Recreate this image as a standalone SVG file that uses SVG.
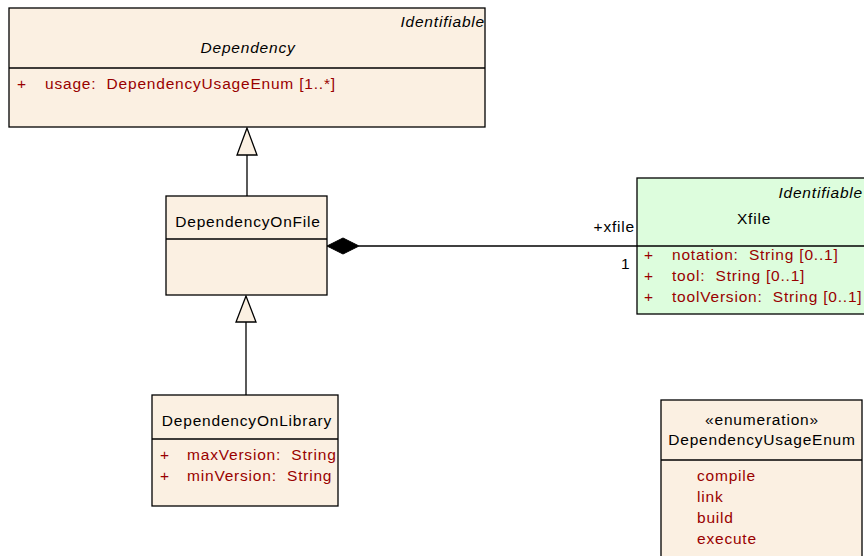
<svg xmlns="http://www.w3.org/2000/svg" width="864" height="556" viewBox="0 0 864 556">
  <style>
    .box { fill: #FBF0E2; stroke: #000; stroke-width: 1.3; }
    .green { fill: #DDFDDD; stroke: #000; stroke-width: 1.3; }
    .div { stroke: #000; stroke-width: 1.3; }
    text { font-family: "Liberation Sans", Arial, sans-serif; font-size: 15.5px; letter-spacing: 0.8px; fill: #000; white-space: pre; }
    .attr { fill: #990000; }
    .it { font-style: italic; }
    .mid { text-anchor: middle; }
    .end { text-anchor: end; }
    .line { stroke: #000; stroke-width: 1.3; fill: none; }
  </style>
  <rect width="864" height="556" fill="#FFFFFF"/>

  <g id="connectors">
    <!-- DependencyOnFile generalizes Dependency -->
    <line class="line" x1="247" y1="155" x2="247" y2="196"/>
    <polygon points="247,128 237,155 257,155" fill="#FBF0E2" stroke="#000" stroke-width="1.3"/>
    <!-- DependencyOnLibrary generalizes DependencyOnFile -->
    <line class="line" x1="246" y1="322" x2="246" y2="395"/>
    <polygon points="246,296 236,322 256,322" fill="#FBF0E2" stroke="#000" stroke-width="1.3"/>
    <!-- composition to Xfile -->
    <line class="line" x1="359" y1="246" x2="637" y2="246"/>
    <polygon points="327,246 343,238 359,246 343,254" fill="#000" stroke="#000" stroke-width="1"/>
    <text class="end" x="635" y="232">+xfile</text>
    <text x="621" y="269">1</text>
  </g>

  <g id="Dependency">
    <rect class="box" x="9" y="8" width="476" height="119"/>
    <line class="div" x1="9" y1="68" x2="485" y2="68"/>
    <text class="it end" x="485" y="27">Identifiable</text>
    <text class="it mid" x="248" y="53">Dependency</text>
    <text class="attr" x="17" y="89">+</text>
    <text class="attr" x="45" y="89">usage:  DependencyUsageEnum [1..*]</text>
  </g>

  <g id="DependencyOnFile">
    <rect class="box" x="166" y="196" width="161" height="99"/>
    <line class="div" x1="166" y1="239" x2="327" y2="239"/>
    <text class="mid" x="248" y="227">DependencyOnFile</text>
  </g>

  <g id="DependencyOnLibrary">
    <rect class="box" x="152" y="395" width="186" height="111"/>
    <line class="div" x1="152" y1="439" x2="338" y2="439"/>
    <text class="mid" x="247" y="426">DependencyOnLibrary</text>
    <text class="attr" x="160" y="460">+</text>
    <text class="attr" x="187" y="460">maxVersion:  String</text>
    <text class="attr" x="160" y="481">+</text>
    <text class="attr" x="187" y="481">minVersion:  String</text>
  </g>

  <g id="Xfile">
    <rect class="green" x="637" y="178" width="230" height="136"/>
    <line class="div" x1="637" y1="246" x2="867" y2="246"/>
    <text class="it end" x="863" y="198">Identifiable</text>
    <text class="mid" x="754" y="224">Xfile</text>
    <text class="attr" x="644" y="260">+</text>
    <text class="attr" x="672" y="260">notation:  String [0..1]</text>
    <text class="attr" x="644" y="281">+</text>
    <text class="attr" x="672" y="281">tool:  String [0..1]</text>
    <text class="attr" x="644" y="302">+</text>
    <text class="attr" x="672" y="302">toolVersion:  String [0..1]</text>
  </g>

  <g id="DependencyUsageEnum">
    <rect class="box" x="661" y="400" width="201" height="160"/>
    <line class="div" x1="661" y1="460" x2="862" y2="460"/>
    <text class="mid" x="762" y="425">«enumeration»</text>
    <text class="mid" x="762" y="445">DependencyUsageEnum</text>
    <text class="attr" x="697" y="481">compile</text>
    <text class="attr" x="697" y="502">link</text>
    <text class="attr" x="697" y="523">build</text>
    <text class="attr" x="697" y="544">execute</text>
  </g>
</svg>
